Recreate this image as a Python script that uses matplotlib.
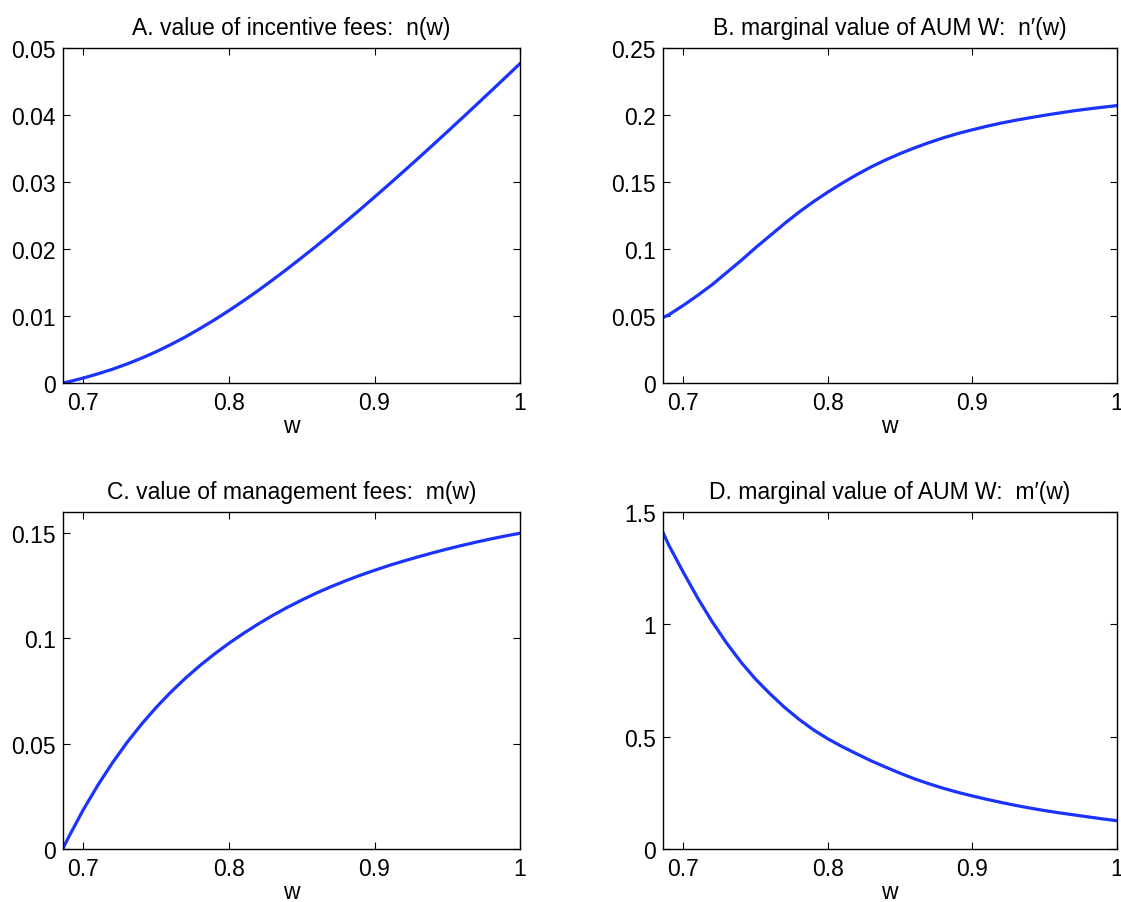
import matplotlib
matplotlib.use("Agg")
import matplotlib.pyplot as plt

plt.rcParams['font.family'] = ['Liberation Sans', 'DejaVu Sans']
plt.rcParams['font.size'] = 16.5

# w grid (left edge of the axes is about 0.6857)
w = [0.6857, 0.69, 0.70, 0.71, 0.72, 0.73, 0.74, 0.75, 0.76, 0.77, 0.78,
     0.79, 0.80, 0.81, 0.82, 0.83, 0.84, 0.85, 0.86, 0.87, 0.88, 0.89,
     0.90, 0.91, 0.92, 0.93, 0.94, 0.95, 0.96, 0.97, 0.98, 0.99, 1.00]

# A. value of incentive fees n(w)
n_w = [0.0, 0.0002, 0.00076, 0.00138, 0.00207, 0.00285, 0.00372, 0.00468, 0.00574,
       0.00688, 0.00812, 0.00943, 0.01082, 0.01228, 0.01380, 0.01539, 0.01703,
       0.01872, 0.02045, 0.02222, 0.02404, 0.02588, 0.02776, 0.02966, 0.03159,
       0.03354, 0.03551, 0.0375, 0.03951, 0.04153, 0.04357, 0.04562, 0.04768]

# B. marginal value n'(w)
n_prime = [0.0488, 0.051, 0.058, 0.0655, 0.0735, 0.0825, 0.0915, 0.101, 0.110,
           0.119, 0.1275, 0.1353, 0.1425, 0.1492, 0.1555, 0.1613, 0.1665,
           0.1712, 0.1755, 0.1794, 0.183, 0.1862, 0.189, 0.1916, 0.194,
           0.1961, 0.198, 0.1998, 0.2015, 0.2031, 0.2045, 0.2058, 0.207]

# C. value of management fees m(w)
m_w = [0.0, 0.0059, 0.0188, 0.0304, 0.041, 0.0506, 0.0593, 0.0672, 0.0744,
       0.081, 0.087, 0.0925, 0.0976, 0.1023, 0.1067, 0.1108, 0.1146, 0.1181,
       0.1214, 0.1244, 0.1272, 0.1298, 0.1322, 0.1345, 0.1366, 0.1386,
       0.1405, 0.1423, 0.1440, 0.1456, 0.1471, 0.1485, 0.1498]

# D. marginal value m'(w)
m_prime = [1.41, 1.35, 1.23, 1.115, 1.01, 0.915, 0.83, 0.755, 0.69, 0.63,
           0.577, 0.53, 0.49, 0.455, 0.423, 0.392, 0.364, 0.337, 0.312,
           0.29, 0.27, 0.252, 0.236, 0.221, 0.207, 0.194, 0.182, 0.171,
           0.161, 0.152, 0.143, 0.134, 0.126]

panels = [
    ("A. value of incentive fees:  n(w)", n_w, (0, 0.05), [0, 0.01, 0.02, 0.03, 0.04, 0.05],
     ["0", "0.01", "0.02", "0.03", "0.04", "0.05"]),
    ("B. marginal value of AUM W:  n\u2032(w)", n_prime, (0, 0.25), [0, 0.05, 0.1, 0.15, 0.2, 0.25],
     ["0", "0.05", "0.1", "0.15", "0.2", "0.25"]),
    ("C. value of management fees:  m(w)", m_w, (0, 0.16), [0, 0.05, 0.1, 0.15],
     ["0", "0.05", "0.1", "0.15"]),
    ("D. marginal value of AUM W:  m\u2032(w)", m_prime, (0, 1.5), [0, 0.5, 1, 1.5],
     ["0", "0.5", "1", "1.5"]),
]

positions = [
    [0.0559, 0.5747, 0.4080, 0.3710],
    [0.5912, 0.5747, 0.4050, 0.3710],
    [0.0559, 0.0587, 0.4080, 0.3735],
    [0.5912, 0.0587, 0.4050, 0.3735],
]

fig = plt.figure(figsize=(11.21, 9.03), dpi=100)

for (title, ys, ylim, yticks, ylabels), pos in zip(panels, positions):
    ax = fig.add_axes(pos)
    ax.plot(w, ys, color=(0.1, 0.2, 1.0), linewidth=2.3)
    ax.set_xlim(0.6857, 1.0)
    ax.set_ylim(*ylim)
    ax.set_xticks([0.7, 0.8, 0.9, 1.0])
    ax.set_xticklabels(["0.7", "0.8", "0.9", "1"])
    ax.set_yticks(yticks)
    ax.set_yticklabels(ylabels)
    ax.tick_params(direction='in', top=True, right=True, length=5, width=0.8)
    ax.tick_params(axis='x', pad=6)
    ax.tick_params(axis='y', pad=5)
    for s in ax.spines.values():
        s.set_linewidth(1.0)
    ax.set_title(title, fontsize=16.5, pad=10)
    ax.set_xlabel("w", labelpad=0)

fig.savefig("out.png", dpi=100)
